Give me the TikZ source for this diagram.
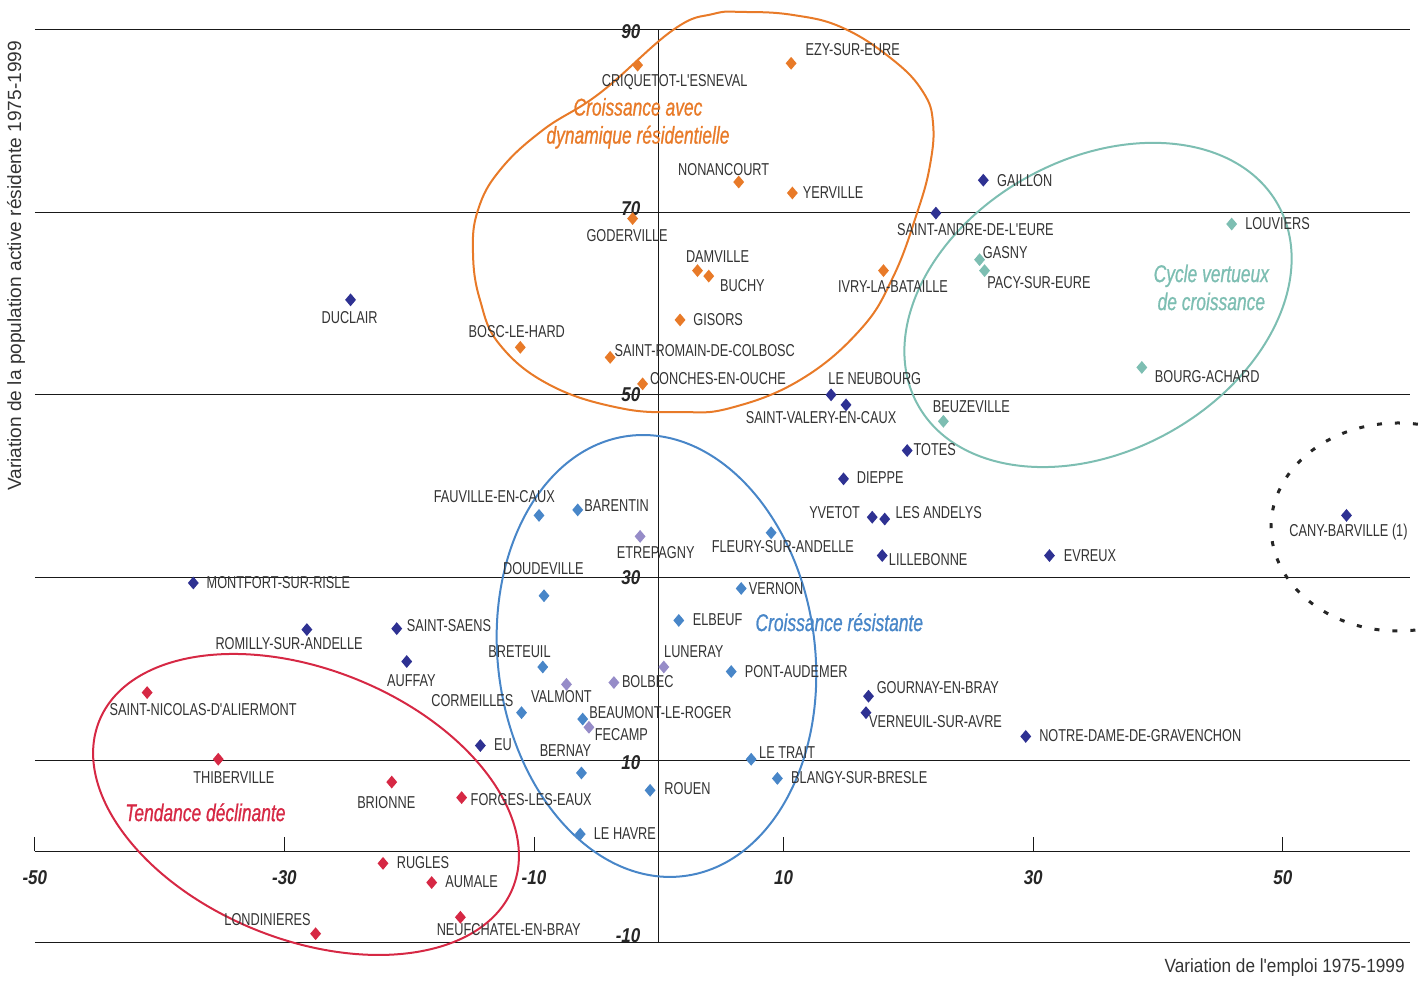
\documentclass[tikz,border=0pt]{standalone}
\usepackage{fontspec}
\setmainfont{Liberation Sans}
\newfontfamily\cityfont{Liberation Sans}[FakeStretch=0.74]
\newfontfamily\groupfont{Liberation Sans}[FakeStretch=0.72,FakeBold=0.8]
\newfontfamily\tickfont{Liberation Sans}[FakeStretch=0.85]
\newfontfamily\xtitlefont{Liberation Sans}[FakeStretch=0.9]
\usetikzlibrary{shapes.geometric,positioning}

\definecolor{navydot}{RGB}{46,49,146}
\definecolor{orangegrp}{RGB}{232,122,40}
\definecolor{tealgrp}{RGB}{125,190,178}
\definecolor{bluegrp}{RGB}{72,134,200}
\definecolor{lavdot}{RGB}{150,140,200}
\definecolor{redgrp}{RGB}{214,40,68}
\definecolor{labgray}{RGB}{51,51,51}

\tikzset{
  city/.style={diamond, fill=#1, inner sep=0pt, minimum width=5.6pt, minimum height=6.6pt},
  citylabel/.style={inner sep=0pt, text=labgray, font=\cityfont\fontsize{8.6}{10}\selectfont},
  grouplabel/.style={inner sep=0pt, align=center, font=\groupfont\itshape\fontsize{12.1}{14}\selectfont},
  ticklabel/.style={inner sep=0pt, text=black!85, font=\tickfont\bfseries\itshape\fontsize{10}{12}\selectfont},
  gridline/.style={line width=0.6pt, black!90},
  group/.style={line width=1pt, draw=#1},
}

\begin{document}
\begin{tikzpicture}[x=6.24pt, y=4.5665pt]
\useasboundingbox (-52.79,-14.18) rectangle (61.07,93.23);

% grid and axes
\foreach \g in {-10,10,...,90} \draw[gridline] (-50,\g) -- (60.2,\g);
\draw[gridline] (-50,0) -- (60.2,0);
\draw[gridline] (0,-10) -- (0,90);
\foreach \t in {-50,-30,...,50} \draw[gridline, line width=0.5pt] (\t,0) -- (\t,1.64);
\foreach \g in {-10,10,...,90} \draw[gridline] (-0.48,\g) -- (0,\g);
\foreach \t in {-50,-30,...,50} \node[ticklabel] (xt\t) at (\t,-2.87) {\t};
\foreach \g/\s in {90/-1,70/2,50/0,30/0,10/-1,-10/3.5}
  \node[ticklabel, anchor=east, yshift=\s pt] (yt\g) at (-1.45,\g) {\g};

% group outlines
\draw[group=orangegrp] plot[smooth cycle, tension=0.7] coordinates {
  (-14.89,65.53) (-14.49,70.24) (-12.72,74.62) (-9.28,79.00) (-4.71,83.05)
  (1.14,89.95) (4.34,91.70) (6.75,91.92) (10.75,91.59) (14.76,90.17)
  (18.77,86.66) (21.17,83.16) (21.97,79.77) (21.73,75.17) (20.69,69.91)
  (18.77,62.90) (16.12,57.10) (11.31,51.62) (5.71,48.55) (1.70,48.12)
  (-3.11,48.55) (-8.72,51.07) (-12.72,55.45) (-14.33,60.39)};
\coordinate (teal-c) at (35.19,59.84);
\draw[group=tealgrp, rotate around={29:(teal-c)}] (teal-c) ellipse [x radius=103pt, y radius=73pt];
\coordinate (blue-c) at (-0.19,21.41);
\draw[group=bluegrp, rotate around={7.2:(blue-c)}] (blue-c) ellipse [x radius=79.3pt, y radius=110.9pt];
\coordinate (red-c) at (-28.27,5.15);
\draw[group=redgrp, rotate around={-22:(red-c)}] (red-c) ellipse [x radius=111.5pt, y radius=67.5pt];
\begin{scope}
  \clip (-52.79,-14.18) rectangle (61.07,93.23);
  \coordinate (cany-c) at (59.23,35.53);
  \draw[line width=1.5pt, dash pattern=on 2.5pt off 6.5pt, black!85] (cany-c) ellipse [x radius=63.5pt, y radius=52pt];
\end{scope}

% towns
\foreach \x/\y/\col/\id/\anc/\dx/\dy/\txt in {
  -24.7/60.4/navydot/duclair/center/-0.5/-8.85/DUCLAIR,
  26.0/73.5/navydot/gaillon/west/6.7/0/GAILLON,
  22.2/69.9/navydot/standre/center/19.75/-8/SAINT-ANDRE-DE-L'EURE,
  13.8/50.0/navydot/neubourg/west/-1.5/8/LE NEUBOURG,
  15.0/48.9/navydot/stvalery/center/-12.5/-6.5/SAINT-VALERY-EN-CAUX,
  19.9/43.9/navydot/totes/west/3/0.5/TOTES,
  14.8/40.8/navydot/dieppe/west/6.5/0.85/DIEPPE,
  17.1/36.6/navydot/yvetot/east/-5.95/2.3/YVETOT,
  18.1/36.4/navydot/andelys/west/5.3/3.15/LES ANDELYS,
  17.9/32.4/navydot/lillebonne/west/3.15/-1.8/LILLEBONNE,
  31.3/32.4/navydot/evreux/west/6.95/0/EVREUX,
  55.1/36.8/navydot/cany/center/1/-8.35/CANY-BARVILLE (1),
  -37.3/29.4/navydot/montfort/west/6.5/0.3/MONTFORT-SUR-RISLE,
  -28.2/24.3/navydot/romilly/center/-8.9/-7.15/ROMILLY-SUR-ANDELLE,
  -21.0/24.4/navydot/stsaens/west/4.85/1.65/SAINT-SAENS,
  -20.2/20.8/navydot/auffay/center/2.35/-9.65/AUFFAY,
  -14.3/11.6/navydot/eu/west/6.65/0.35/EU,
  16.8/17.0/navydot/gournay/west/3.95/4.2/GOURNAY-EN-BRAY,
  16.6/15.2/navydot/verneuil/west/1.4/-4.7/VERNEUIL-SUR-AVRE,
  29.4/12.6/navydot/notredame/west/6.55/0.5/NOTRE-DAME-DE-GRAVENCHON,
  -1.7/86.1/orangegrp/criquetot/center/18.5/-8.35/CRIQUETOT-L'ESNEVAL,
  10.6/86.3/orangegrp/ezy/west/7/7/EZY-SUR-EURE,
  6.4/73.3/orangegrp/nonancourt/center/-7.5/6/NONANCOURT,
  10.7/72.1/orangegrp/yerville/west/5/0/YERVILLE,
  -2.1/69.3/orangegrp/goderville/center/-2.75/-8.35/GODERVILLE,
  3.1/63.6/orangegrp/damville/center/10/7.15/DAMVILLE,
  4.0/63.0/orangegrp/buchy/west/5.5/-4.5/BUCHY,
  18.0/63.6/orangegrp/ivry/center/4.75/-8/IVRY-LA-BATAILLE,
  1.7/58.2/orangegrp/gisors/west/6.5/0/GISORS,
  -11.1/55.2/orangegrp/bosc/center/-1.75/8/BOSC-LE-HARD,
  -3.9/54.1/orangegrp/stromain/west/2/3.5/SAINT-ROMAIN-DE-COLBOSC,
  -1.3/51.2/orangegrp/conches/west/3.5/2.5/CONCHES-EN-OUCHE,
  45.9/68.7/tealgrp/louviers/west/6.65/0/LOUVIERS,
  25.7/64.8/tealgrp/gasny/west/1.5/3.65/GASNY,
  26.1/63.6/tealgrp/pacy/west/1.15/-5.85/PACY-SUR-EURE,
  38.7/53.0/tealgrp/bourgachard/west/6.35/-4.7/BOURG-ACHARD,
  22.8/47.1/tealgrp/beuzeville/center/14/7.15/BEUZEVILLE,
  -9.6/36.8/bluegrp/fauville/center/-22.35/9.5/FAUVILLE-EN-CAUX,
  -6.5/37.4/bluegrp/barentin/west/3.15/2.15/BARENTIN,
  -9.2/28.0/bluegrp/doudeville/center/-0.3/13.7/DOUDEVILLE,
  9.0/34.9/bluegrp/fleury/center/5.85/-7/FLEURY-SUR-ANDELLE,
  6.6/28.8/bluegrp/vernon/west/3.65/0/VERNON,
  1.6/25.3/bluegrp/elbeuf/west/6.8/0.5/ELBEUF,
  -9.3/20.2/bluegrp/breteuil/center/-11.65/7.8/BRETEUIL,
  5.8/19.7/bluegrp/pontaudemer/west/6.65/0/PONT-AUDEMER,
  -11.0/15.2/bluegrp/cormeilles/east/-3.85/5.8/CORMEILLES,
  -6.1/14.5/bluegrp/beaumont/west/3.15/3.15/BEAUMONT-LE-ROGER,
  -6.2/8.6/bluegrp/bernay/center/-8/11.3/BERNAY,
  -0.7/6.7/bluegrp/rouen/west/7/0.7/ROUEN,
  7.4/10.1/bluegrp/letrait/west/3.8/3.3/LE TRAIT,
  9.5/8.0/bluegrp/blangy/west/6.7/0.5/BLANGY-SUR-BRESLE,
  -6.3/1.9/bluegrp/lehavre/west/6.65/0.5/LE HAVRE,
  -1.5/34.5/lavdot/etrepagny/center/7.8/-8/ETREPAGNY,
  -7.4/18.3/lavdot/valmont/center/-2.5/-6.3/VALMONT,
  -3.6/18.5/lavdot/bolbec/west/3.85/0.5/BOLBEC,
  0.4/20.2/lavdot/luneray/west/0/7.65/LUNERAY,
  -5.6/13.6/lavdot/fecamp/west/2.8/-3.65/FECAMP,
  -41.0/17.4/redgrp/stnicolas/center/28/-8.65/SAINT-NICOLAS-D'ALIERMONT,
  -35.3/10.1/redgrp/thiberville/center/7.8/-9.15/THIBERVILLE,
  -21.4/7.6/redgrp/brionne/center/-2.75/-10/BRIONNE,
  -15.8/5.9/redgrp/forges/west/4.35/-1/FORGES-LES-EAUX,
  -22.1/-1.3/redgrp/rugles/west/6.7/0.3/RUGLES,
  -18.2/-3.4/redgrp/aumale/west/6.7/0.5/AUMALE,
  -27.5/-9.0/redgrp/londinieres/east/-2.25/7/LONDINIERES,
  -15.9/-7.2/redgrp/neufchatel/center/24.15/-6/NEUFCHATEL-EN-BRAY}{
  \node[city=\col] (\id) at (\x,\y) {};
  \node[citylabel, anchor=\anc, xshift=\dx pt, yshift=\dy pt] (\id-l) at (\id.center) {\txt};
}

% group names
\node[grouplabel, text=orangegrp] (g-resid) at (-1.67,79.73) {Croissance avec\\dynamique résidentielle};
\node[grouplabel, text=tealgrp] (g-cycle) at (44.27,61.76) {Cycle vertueux\\de croissance};
\node[grouplabel, text=bluegrp] (g-resist) at (14.46,25.10) {Croissance résistante};
\node[grouplabel, text=redgrp] (g-declin) at (-36.33,4.29) {Tendance déclinante};

% axis titles
\node[rotate=90, inner sep=0pt, text=labgray, font=\fontsize{9.55}{11}\selectfont] (ytitle) at (-51.51,64.11) {Variation de la population active résidente 1975-1999};
\node[anchor=east, inner sep=0pt, text=labgray, font=\xtitlefont\fontsize{9.55}{11}\selectfont] (xtitle) at (59.79,-12.76) {Variation de l'emploi 1975-1999};
\end{tikzpicture}
\end{document}
